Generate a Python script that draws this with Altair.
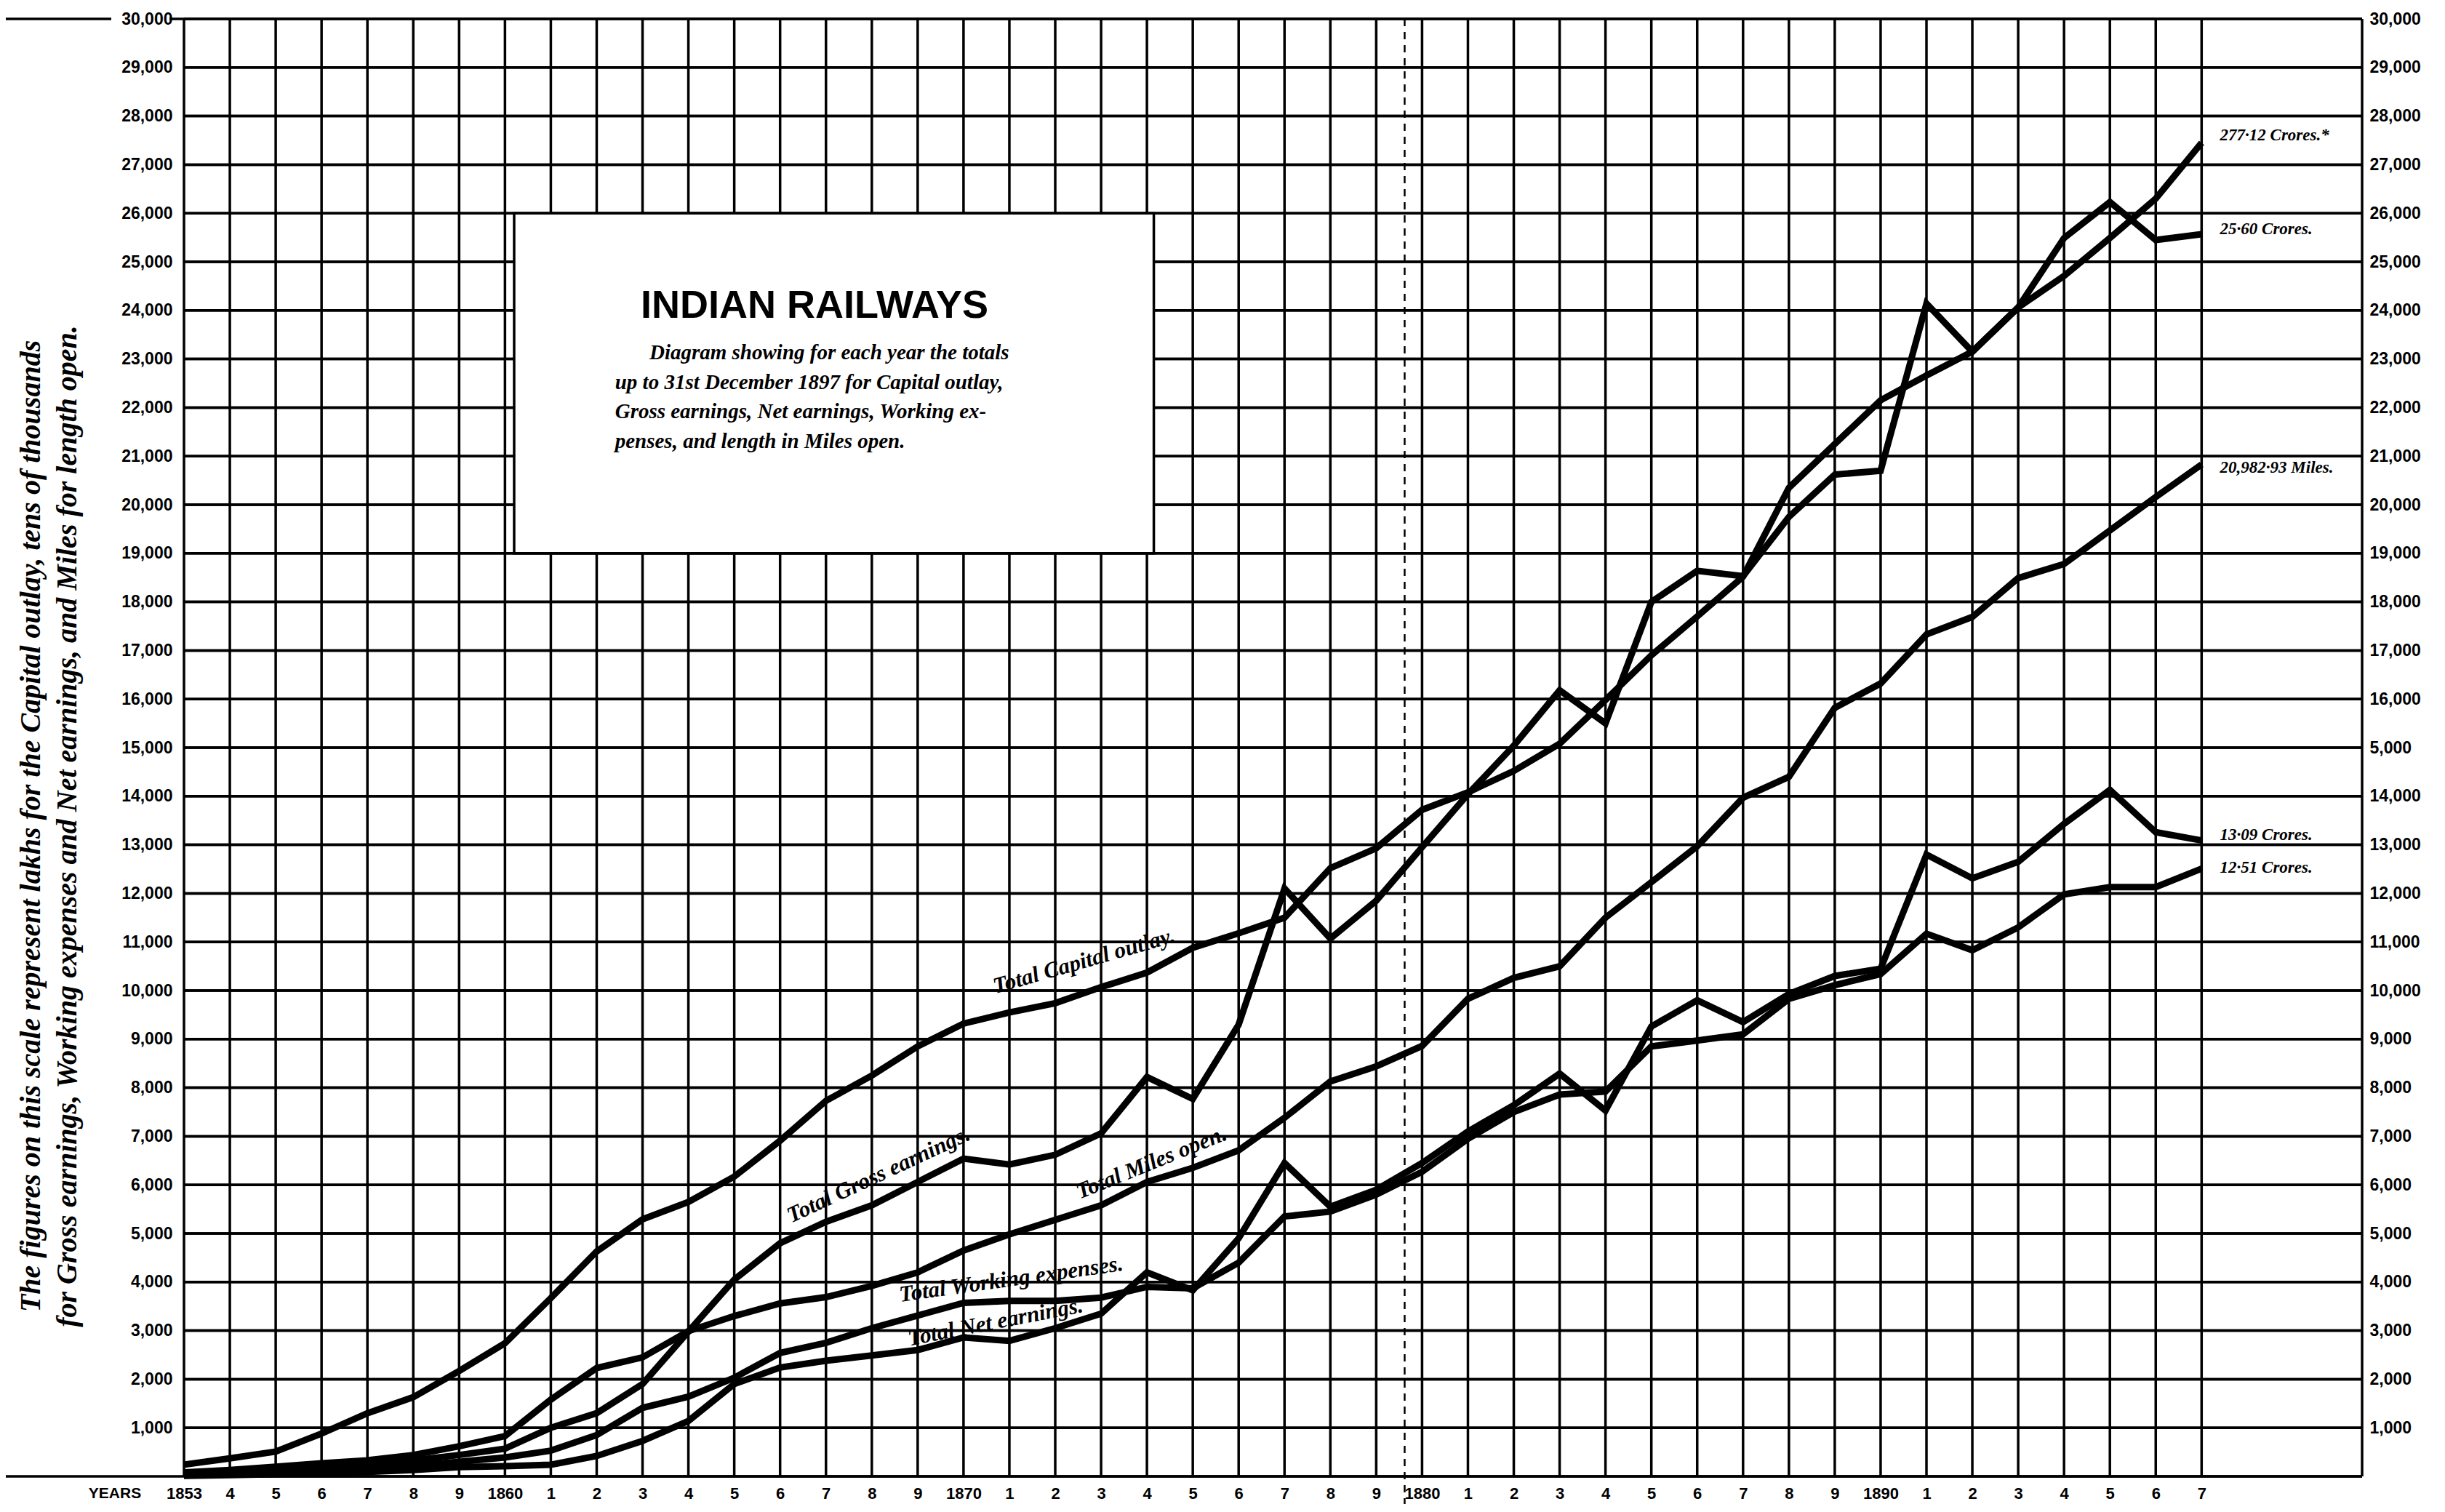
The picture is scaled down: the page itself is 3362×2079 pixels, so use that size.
import altair as alt
import pandas as pd

# ---------------- data ----------------
years = list(range(1853, 1898))

capital = [240, 370, 510, 880, 1300, 1630, 2170, 2740, 3670, 4630,
           5290, 5650, 6170, 6910, 7730, 8250, 8850, 9320, 9550, 9740,
           10070, 10370, 10880, 11180, 11500, 12520, 12930, 13720, 14080, 14520,
           15080, 15980, 16900, 17700, 18520, 20350, 21250, 22150, 22660, 23150,
           24060, 24710, 25490, 26300, 27450]

gross = [40, 80, 130, 180, 240, 330, 440, 570, 1000, 1300,
         1900, 2980, 4050, 4800, 5240, 5580, 6060, 6540, 6420, 6620,
         7060, 8220, 7770, 9300, 12100, 11070, 11850, 12950, 14040, 15040,
         16180, 15500, 18000, 18640, 18530, 19750, 20620, 20700, 24140, 23150,
         24060, 25490, 26230, 25450, 25570]

miles = [80, 130, 200, 270, 330, 440, 620, 830, 1580, 2230,
         2450, 2990, 3300, 3560, 3690, 3920, 4200, 4650, 4980, 5280,
         5580, 6060, 6350, 6710, 7380, 8130, 8440, 8860, 9830, 10260,
         10500, 11500, 12230, 12970, 13970, 14400, 15820, 16320, 17330, 17690,
         18490, 18780, 19470, 20160, 20830]

working = [20, 45, 75, 110, 160, 220, 300, 390, 530, 850,
           1410, 1640, 2030, 2540, 2750, 3050, 3310, 3570, 3610, 3610,
           3680, 3900, 3870, 4400, 5350, 5450, 5800, 6270, 6950, 7500,
           7860, 7920, 8850, 8970, 9100, 9830, 10110, 10340, 11170, 10830,
           11300, 11980, 12130, 12130, 12510]

net = [10, 25, 45, 70, 90, 130, 190, 210, 240, 420,
       730, 1140, 1900, 2240, 2380, 2490, 2600, 2860, 2790, 3050,
       3350, 4200, 3830, 4900, 6450, 5550, 5900, 6450, 7100, 7640,
       8290, 7530, 9260, 9800, 9350, 9930, 10300, 10450, 12800, 12310,
       12650, 13430, 14130, 13260, 13090]

series_names = ["Capital outlay", "Gross earnings", "Miles open",
                "Working expenses", "Net earnings"]
series_values = [capital, gross, miles, working, net]

y_ticks = list(range(1000, 30001, 1000))
grid_levels = list(range(0, 30001, 1000))

title_text = "INDIAN RAILWAYS"
subtitle_lines = [
    "Diagram showing for each year the totals",
    "up to 31st December 1897 for Capital outlay,",
    "Gross earnings, Net earnings, Working ex-",
    "penses, and length in Miles open.",
]
axis_title_lines = [
    "The figures on this scale represent lakhs for the Capital outlay, tens of thousands",
    "for Gross earnings, Working expenses and Net earnings, and Miles for length open.",
]
curve_labels = ["Total Capital outlay.", "Total Gross earnings.", "Total Miles open.",
                "Total Working expenses.", "Total Net earnings."]
end_labels = ["277·12 Crores.*", "25·60 Crores.", "20,982·93 Miles.",
              "13·09 Crores.", "12·51 Crores."]

# ---------------- layout ----------------
X_MIN, X_MAX = 1853, 1900.5
W, H = 2995, 2004
SERIF = "Liberation Serif, DejaVu Serif, serif"
SANS = "Liberation Sans, Arial, sans-serif"
NARROW = "Liberation Sans Narrow, Liberation Sans, sans-serif"

xs = alt.Scale(domain=[X_MIN, X_MAX], nice=False, zero=False)
ys = alt.Scale(domain=[0, 30000], nice=False, zero=False)

rows = []
for name, vals in zip(series_names, series_values):
    for yr, v in zip(years, vals):
        rows.append({"year": yr, "value": v, "series": name})
df = pd.DataFrame(rows)

x_axis = alt.Axis(values=years, title=None,
                  labelExpr="(datum.value == 1853 || datum.value == 1860 || datum.value == 1870 || "
                            "datum.value == 1880 || datum.value == 1890) ? format(datum.value, 'd') : "
                            "format(datum.value % 10, 'd')",
                  labelFont=SANS, labelFontWeight="bold", labelFontSize=22, labelColor="black",
                  labelPadding=13, ticks=False, domain=False, grid=False, labelOverlap=False,
                  labelFlush=False)
left_axis = alt.Axis(orient="left", values=y_ticks, title=None,
                     labelExpr="format(datum.value, ',')",
                     labelFont=SANS, labelFontWeight="bold", labelFontSize=23, labelColor="black",
                     labelPadding=16, ticks=False, domain=False, grid=False, labelOverlap=False,
                     labelFlush=False)
right_axis = alt.Axis(orient="right", values=y_ticks, title=None,
                      labelExpr="datum.value == 15000 ? '5,000' : format(datum.value, ',')",
                      labelFont=SANS, labelFontWeight="bold", labelFontSize=23,
                      labelColor="black", labelPadding=10, ticks=False, domain=False,
                      grid=False, labelAlign="left", labelOverlap=False, labelFlush=False)

# grid (carries the axes)
vgrid = alt.Chart(pd.DataFrame({"x": years + [X_MAX]})).mark_rule(
    color="black", strokeWidth=3.5).encode(
    x=alt.X("x:Q", scale=xs, axis=x_axis),
    y=alt.value(0), y2=alt.value(H))

hgrid = alt.Chart(pd.DataFrame({"v": grid_levels})).mark_rule(
    color="black", strokeWidth=3.5).encode(
    y=alt.Y("v:Q", scale=ys, axis=left_axis),
    x=alt.value(0), x2=alt.value(W))

hgrid_r = alt.Chart(pd.DataFrame({"v": grid_levels})).mark_rule(
    color="black", strokeWidth=3.5).encode(
    y=alt.Y("v:Q", scale=ys, axis=right_axis),
    x=alt.value(0), x2=alt.value(W))

# left extensions of top and bottom rules
ext = pd.DataFrame({"v": [30000, 30000, 0], "a": [-245, -20, -245], "b": [-100, 0, 0]})
ext_rules = alt.Chart(ext).mark_rule(color="black", strokeWidth=3.5).encode(
    y=alt.Y("v:Q", scale=ys, axis=None),
    x=alt.X("a:Q", scale=None, axis=None), x2="b:Q")

# fold line of the sheet
fold = alt.Chart(pd.DataFrame({"x": [1879.62]})).mark_rule(
    color="black", strokeWidth=2.5, strokeDash=[10, 8]).encode(
    x=alt.X("x:Q", scale=xs, axis=None), y=alt.value(0), y2=alt.value(H + 45))

# title box
box = alt.Chart(pd.DataFrame({"x1": [1860.2], "x2": [1874.15], "y1": [19000], "y2": [26000]})).mark_rect(
    fill="white", stroke="black", strokeWidth=3.5).encode(
    x=alt.X("x1:Q", scale=xs, axis=None), x2="x2:Q",
    y=alt.Y("y1:Q", scale=ys, axis=None), y2="y2:Q")

lines = alt.Chart(df).mark_line(color="black", strokeWidth=9, strokeJoin="miter").encode(
    x=alt.X("year:Q", scale=xs, axis=None),
    y=alt.Y("value:Q", scale=ys, axis=None),
    detail="series:N")

# texts
title = alt.Chart(pd.DataFrame({"x": [1866.75], "y": [24080], "t": [title_text]})).mark_text(
    font=NARROW, fontWeight="bold", fontSize=54, color="black").encode(
    x=alt.X("x:Q", scale=xs, axis=None), y=alt.Y("y:Q", scale=ys, axis=None), text="t:N")

sub = pd.DataFrame({"x": [1863.15, 1862.4, 1862.4, 1862.4],
                    "y": [23130, 22520, 21910, 21300], "t": subtitle_lines})
subtitle = alt.Chart(sub).mark_text(font=SERIF, fontStyle="italic", fontWeight="bold",
                                    fontSize=29, color="black", align="left").encode(
    x=alt.X("x:Q", scale=xs, axis=None), y=alt.Y("y:Q", scale=ys, axis=None), text="t:N")

cl = pd.DataFrame({"x": [1872.63, 1868.15, 1874.1, 1871.04, 1870.7],
                   "y": [10600, 6200, 6450, 4050, 3170],
                   "ang": [344, 335, 338, 352, 349], "t": curve_labels})
curve_text = alt.Chart(cl).mark_text(font=SERIF, fontStyle="italic", fontWeight="bold",
                                     fontSize=31, color="black").encode(
    x=alt.X("x:Q", scale=xs, axis=None), y=alt.Y("y:Q", scale=ys, axis=None),
    angle=alt.Angle("ang:Q", scale=None), text="t:N")

el = pd.DataFrame({"x": [1897.4] * 5, "y": [27600, 25670, 20770, 13210, 12530], "t": end_labels})
end_text = alt.Chart(el).mark_text(font=SERIF, fontStyle="italic", fontWeight="bold",
                                   fontSize=23, color="black", align="left").encode(
    x=alt.X("x:Q", scale=xs, axis=None), y=alt.Y("y:Q", scale=ys, axis=None), text="t:N")

at = pd.DataFrame({"px": [-210, -160], "t": axis_title_lines})
axis_title = alt.Chart(at).mark_text(font=SERIF, fontStyle="italic", fontWeight="bold",
                                     fontSize=40, color="black", angle=270,
                                     baseline="middle").encode(
    x=alt.X("px:Q", scale=None, axis=None), y=alt.value(1110), text="t:N")

years_word = alt.Chart(pd.DataFrame({"t": ["YEARS"]})).mark_text(
    font=SANS, fontWeight="bold", fontSize=21, color="black", baseline="top").encode(
    x=alt.value(-95), y=alt.value(H + 13), text="t:N")

chart = alt.layer(
    vgrid, hgrid, hgrid_r, ext_rules, fold, box, lines,
    title, subtitle, curve_text, end_text, axis_title, years_word
).resolve_axis(x="independent", y="independent").properties(
    width=W, height=H,
    autosize=alt.AutoSizeParams(type="none"),
    padding={"left": 245, "top": 18, "right": 106, "bottom": 38},
    background="white",
).configure_view(strokeWidth=0)

chart.save("out.html", embed_options={"renderer": "svg", "actions": False})
